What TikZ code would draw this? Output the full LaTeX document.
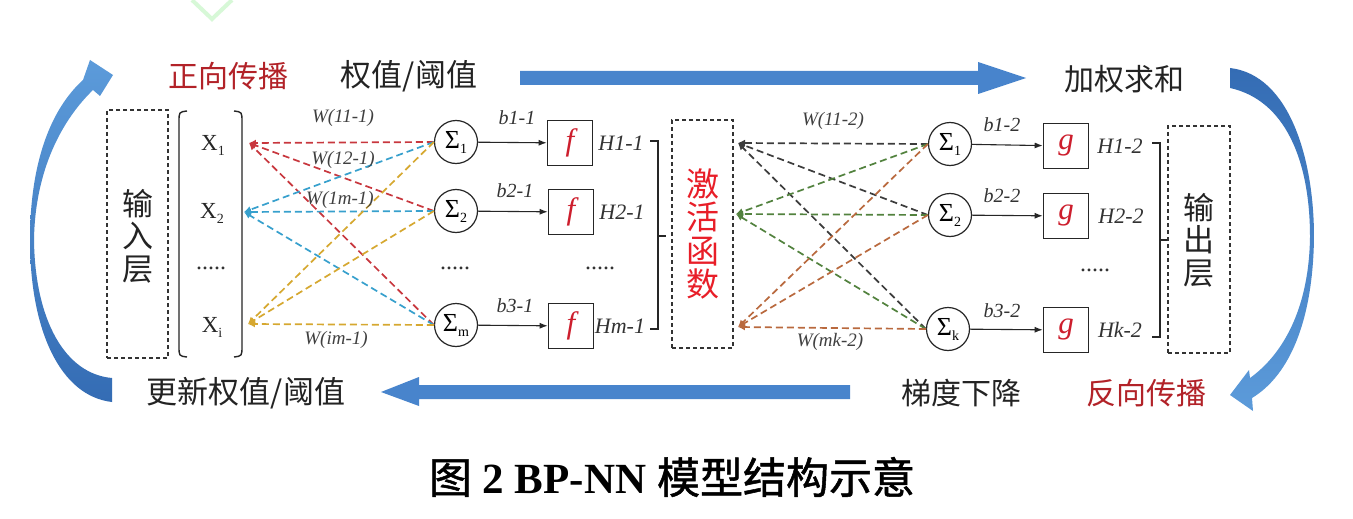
\documentclass[tikz,border=0pt]{standalone}
\usepackage{fontspec}
\setmainfont{Liberation Serif}
\newfontfamily\cjk{Noto Sans CJK SC}
\newfontfamily\cjkcap[FakeBold=1.2]{Noto Sans CJK SC}
\usetikzlibrary{arrows.meta}

\definecolor{arrblue}{RGB}{72,132,204}
\definecolor{arrlight}{RGB}{92,155,218}
\definecolor{arrdark}{RGB}{52,108,180}
\definecolor{tred}{RGB}{178,34,40}
\definecolor{actred}{RGB}{232,30,40}
\definecolor{fred}{RGB}{205,30,45}
\definecolor{tgray}{RGB}{35,35,35}
\definecolor{lred}{RGB}{200,55,62}
\definecolor{lblue}{RGB}{55,160,205}
\definecolor{lyellow}{RGB}{214,168,48}
\definecolor{lgray}{RGB}{60,60,60}
\definecolor{lgreen}{RGB}{82,130,62}
\definecolor{lbrown}{RGB}{185,105,62}
\definecolor{wgreen}{RGB}{215,248,215}

\tikzset{
  cjklabel/.style={font=\cjk\fontsize{30}{30}\selectfont, text=tgray, inner sep=0},
  redlabel/.style={font=\cjk\fontsize{30}{30}\selectfont, text=tred, inner sep=0},
  vtext/.style={font=\cjk\fontsize{31}{32.5}\selectfont, align=center, inner sep=0, text=tgray},
  dbox/.style={draw=black!80, dash pattern=on 4pt off 3pt, line width=1.1pt, inner sep=0},
  sumnode/.style={circle, draw=black!85, line width=1.2pt, minimum size=43pt, inner sep=0},
  fbox/.style={rectangle, draw=black!85, line width=1.6pt, minimum width=45pt, minimum height=45pt, inner sep=0,
     font=\fontsize{31}{31}\selectfont\itshape, text=fred},
  wlabel/.style={font=\fontsize{19}{19}\selectfont\itshape, text=black!75, inner sep=0},
  blabel/.style={font=\fontsize{20}{20}\selectfont\itshape, text=black!80, inner sep=0},
  hlabel/.style={font=\fontsize{22}{22}\selectfont\itshape, text=black!80, inner sep=0},
  xlabel/.style={font=\fontsize{23}{23}\selectfont, text=black!85, inner sep=0},
  dots/.style={font=\fontsize{24}{24}\selectfont, text=black!80, inner sep=0},
  conn/.style={line width=1.7pt, dash pattern=on 7pt off 4pt, -{Latex[length=7pt,width=7pt]}},
  solidarrow/.style={line width=1.1pt, black!85, -{Latex[length=8pt,width=6pt]}},
  brack/.style={line width=1.4pt, black!85},
}
\newcommand{\sumlab}[1]{{\fontsize{26}{26}\selectfont Σ}\raisebox{-5pt}{\fontsize{14}{14}\selectfont #1}}

\begin{document}
\begin{tikzpicture}[x=1pt,y=-1pt]
\useasboundingbox (0,0) rectangle (1353,519);
\fill[white] (0,0) rectangle (1353,519);

% faint watermark chevron
\draw[wgreen, line width=4pt] (192,0) -- (212,19) -- (232,0);

% curved arrows
\shade[top color=arrlight, bottom color=arrdark]
  (112,402) .. controls (60,396) and (30,330) .. (30,240)
  .. controls (30,160) and (52,108) .. (83,80) -- (90,60) -- (113,75) -- (100,96) -- (93,90)
  .. controls (62,120) and (35,170) .. (34,240)
  .. controls (35,320) and (65,374) .. (112,378) -- cycle;
\shade[top color=arrdark, bottom color=arrlight]
  (1230,68) .. controls (1290,75) and (1314,160) .. (1314,237)
  .. controls (1313,320) and (1290,375) .. (1252,398) -- (1253,411) -- (1230,395) -- (1249,370) -- (1250,378)
  .. controls (1282,355) and (1309,310) .. (1310,237)
  .. controls (1310,160) and (1285,100) .. (1230,88) -- cycle;

% straight arrows
\fill[arrblue] (520,71) -- (978,71) -- (978,62) -- (1026,78) -- (978,94) -- (978,85) -- (520,85) -- cycle;
\fill[arrblue] (850,385) -- (419,385) -- (419,377) -- (381,392) -- (419,406) -- (419,399) -- (850,399) -- cycle;

% top/bottom texts
\node[redlabel] (fwd) at (228,76) {正向传播};
\node[cjklabel, font=\cjk\fontsize{31}{31}\selectfont] (wt) at (409,76) {权值/阈值};
\node[cjklabel] (wsum) at (1124,79) {加权求和};
\node[cjklabel, font=\cjk\fontsize{31}{31}\selectfont] (upd) at (246,393) {更新权值/阈值};
\node[cjklabel] (grad) at (961,393) {梯度下降};
\node[redlabel] (bwd) at (1146,393) {反向传播};

% input layer
\node[dbox, minimum width=61pt, minimum height=248pt] (inbox) at (137.5,234) {};
\node[vtext] (intext) at (137.5,236) {输\\入\\层};
\draw[brack] (187,111) .. controls (179,112) .. (179,122) -- (179,346) .. controls (179,356) .. (187,357);
\draw[brack] (234,111) .. controls (242,112) .. (242,122) -- (242,346) .. controls (242,356) .. (234,357);
\node[xlabel] (x1) at (213,145) {X\raisebox{-5pt}{\fontsize{14}{14}\selectfont 1}};
\node[xlabel] (x2) at (212,213) {X\raisebox{-5pt}{\fontsize{14}{14}\selectfont 2}};
\node[dots] (xd) at (211,268) {.....};
\node[xlabel] (xi) at (212,327) {X\raisebox{-5pt}{\fontsize{14}{14}\selectfont i}};
\coordinate (x1p) at (249,143);
\coordinate (x2p) at (244,212);
\coordinate (xip) at (248,324);

% hidden layer
\node[sumnode] (s1) at (456,142) {\sumlab{1}};
\node[sumnode] (s2) at (456,211) {\sumlab{2}};
\node[dots] (sd) at (455,268) {.....};
\node[sumnode] (sm) at (456,325) {\sumlab{m}};

\node[fbox] (f1) at (570,143) {f};
\node[fbox] (f2) at (571,212) {f};
\node[dots] (fd) at (600,268) {.....};
\node[fbox] (fm) at (571,326) {f};

\foreach \s/\f in {s1/f1,s2/f2,sm/fm} \draw[solidarrow] (\s) -- (\f);
\node[blabel] (b11) at (517,118) {b1-1};
\node[blabel] (b21) at (515,191) {b2-1};
\node[blabel] (b31) at (515,306) {b3-1};

\node[hlabel] (h11) at (621,143) {H1-1};
\node[hlabel] (h21) at (622,212) {H2-1};
\node[hlabel] (hm1) at (620,326) {Hm-1};
\draw[brack] (650,141) -- (658,141) -- (658,329) -- (650,329);
\draw[brack] (658,236) -- (666,236);

% input connectors
\foreach \s in {s1,s2,sm} {
  \draw[conn, lred] (\s.west) -- (x1p);
}
\foreach \s in {s1,s2,sm} {
  \draw[conn, lblue] (\s.west) -- (x2p);
}
\foreach \s in {s1,s2,sm} {
  \draw[conn, lyellow] (\s.west) -- (xip);
}
\node[wlabel] (w111) at (343,118) {W(11-1)};
\node[wlabel] (w121) at (343,160) {W(12-1)};
\node[wlabel] (w1m1) at (340,200) {W(1m-1)};
\node[wlabel] (wim1) at (336,340) {W(im-1)};

% activation box
\node[dbox, minimum width=61pt, minimum height=228pt] (act) at (702.5,234) {};
\node[vtext, text=actred, font=\cjk\fontsize{33}{33.5}\selectfont] (acttext) at (703,234) {激\\活\\函\\数};
\coordinate (a1) at (738,143);
\coordinate (a2) at (736,214);
\coordinate (a3) at (738,327);

% output layer
\node[sumnode] (t1) at (950,144) {\sumlab{1}};
\node[sumnode] (t2) at (950,215) {\sumlab{2}};
\node[sumnode] (tk) at (948,329) {\sumlab{k}};
\foreach \t in {t1,t2,tk} \draw[conn, lgray] (\t.west) -- (a1);
\foreach \t in {t1,t2,tk} \draw[conn, lgreen] (\t.west) -- (a2);
\foreach \t in {t1,t2,tk} \draw[conn, lbrown] (\t.west) -- (a3);
\node[wlabel] (w112) at (833,121) {W(11-2)};
\node[wlabel] (wmk2) at (830,342) {W(mk-2)};

\node[fbox] (g1) at (1066,146) {g};
\node[fbox] (g2) at (1066,216) {g};
\node[dots] (gd) at (1095,270) {.....};
\node[fbox] (gk) at (1066,330) {g};
\foreach \s/\g in {t1/g1,t2/g2,tk/gk} \draw[solidarrow] (\s) -- (\g);
\node[blabel] (b12) at (1002,125) {b1-2};
\node[blabel] (b22) at (1002,196) {b2-2};
\node[blabel] (b32) at (1002,311) {b3-2};
\node[hlabel] (h12) at (1120,146) {H1-2};
\node[hlabel] (h22) at (1121,216) {H2-2};
\node[hlabel] (hk2) at (1120,330) {Hk-2};
\draw[brack] (1152,143) -- (1160,143) -- (1160,337) -- (1152,337);
\draw[brack] (1160,240) -- (1168,240);

\node[dbox, minimum width=62pt, minimum height=227pt] (outbox) at (1199,239.5) {};
\node[vtext] (outtext) at (1199,240) {输\\出\\层};

% caption
\node[inner sep=0, font=\fontsize{43}{43}\selectfont] (cap) at (672,477)
  {{\cjkcap 图} \textbf{2 BP-NN} {\cjkcap 模型结构示意}};
\end{tikzpicture}
\end{document}
